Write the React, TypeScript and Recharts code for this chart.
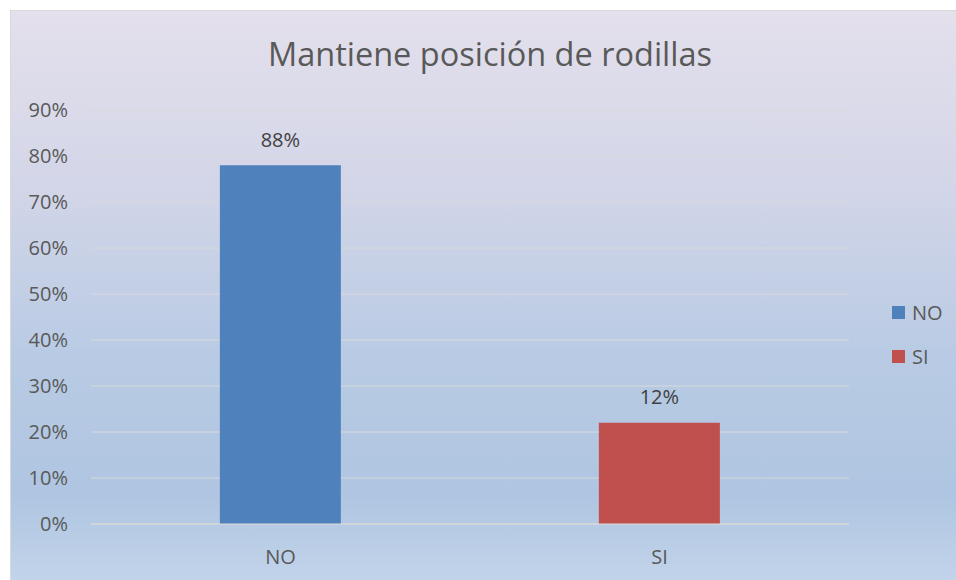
import React from "react";
import { BarChart, Bar, XAxis, YAxis, CartesianGrid, Cell, LabelList, Legend } from "recharts";

const categories = ["NO", "SI"];
const barValues = [78, 22];
const labelTexts = ["88%", "12%"];
const barColors = ["#4f81bd", "#c0504d"];
const yTicks = [0, 10, 20, 30, 40, 50, 60, 70, 80, 90];
const title = "Mantiene posición de rodillas";

const data = categories.map((c, i) => ({ name: c, value: barValues[i], label: labelTexts[i] }));

const FONT = "'Open Sans', 'Noto Sans', sans-serif";

const DataLabel = (props: any) => {
  const { x, y, width, index } = props;
  return (
    <text
      x={x + width / 2}
      y={y - 26}
      textAnchor="middle"
      dominantBaseline="central"
      fill="#404040"
      fontSize={20}
      fontFamily={FONT}
    >
      {labelTexts[index]}
    </text>
  );
};

const LegendContent = () => (
  <div style={{ fontFamily: FONT }}>
    {categories.map((c, i) => (
      <div key={c} style={{ display: "flex", alignItems: "center", height: 44 }}>
        <span style={{ display: "inline-block", width: 13, height: 13, background: barColors[i], marginRight: 7 }} />
        <span style={{ fontSize: 20, color: "#595959" }}>{c}</span>
      </div>
    ))}
  </div>
);

export default function App() {
  return (
    <div>
      <style>{`body{margin:0;overflow:hidden}`}</style>
      <div
        style={{
          position: "absolute",
          left: 10,
          top: 10,
          width: 946,
          height: 570,
          border: "1px solid #d9d9d9",
          background: "linear-gradient(to bottom, #e4e0ec 0%, #d3d6e8 30%, #b9cbe4 60%, #afc5e1 85%, #c2d4ea 100%)",
        }}
      >
        <div
          style={{
            position: "absolute",
            left: 0,
            top: 23,
            width: 958,
            textAlign: "center",
            fontFamily: FONT,
            fontSize: 32.5,
            lineHeight: "40px",
            color: "#595959",
          }}
        >
          {title}
        </div>
        <BarChart
          width={946}
          height={570}
          data={data}
          margin={{ top: 99, right: 108, bottom: 27, left: 20 }}
          barCategoryGap="34%"
        >
          <CartesianGrid vertical={false} stroke="#d9d9d9" strokeWidth={1} />
          <XAxis
            dataKey="name"
            axisLine={{ stroke: "#d9d9d9" }}
            tickLine={false}
            tickSize={0}
            tickMargin={26}
            height={30}
            tick={{ fill: "#595959", fontSize: 20, fontFamily: FONT }}
          />
          <YAxis
            domain={[0, 90]}
            ticks={yTicks}
            tickFormatter={(v: number) => `${v}%`}
            axisLine={false}
            tickLine={false}
            tickSize={0}
            tickMargin={23}
            width={60}
            interval={0}
            tick={{ fill: "#595959", fontSize: 20, fontFamily: FONT }}
          />
          <Legend
            layout="horizontal"
            align="center"
            verticalAlign="middle"
            content={LegendContent}
            wrapperStyle={{ position: "absolute", left: 881, top: 279, width: 70 }}
          />
          <Bar dataKey="value" isAnimationActive={false}>
            {data.map((d, i) => (
              <Cell key={d.name} fill={barColors[i]} />
            ))}
            <LabelList dataKey="label" content={DataLabel} />
          </Bar>
        </BarChart>
      </div>
    </div>
  );
}
